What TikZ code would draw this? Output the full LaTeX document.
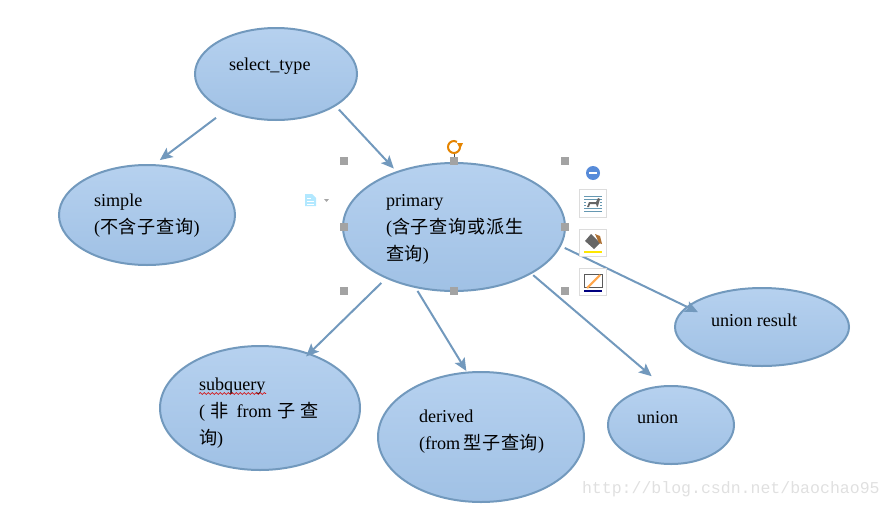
\documentclass[tikz,border=0pt]{standalone}
\usepackage{fontspec}
\setmainfont{Liberation Serif}
\newfontfamily\cjk[LetterSpace=4]{Noto Sans CJK SC}
\newfontfamily\wmark{Liberation Mono}
\usetikzlibrary{shapes.geometric,arrows.meta,decorations.pathmorphing}
\definecolor{edgeblue}{HTML}{7299BD}
\definecolor{topblue}{HTML}{B6D1EF}
\definecolor{botblue}{HTML}{A0C1E5}
\definecolor{handle}{HTML}{A3A3A3}
\definecolor{btnline}{HTML}{DCDCDC}
\newcommand\zh[1]{{\cjk #1}}
\tikzset{
  bubble/.style 2 args={ellipse,draw=edgeblue,line width=1.5pt,top color=topblue,bottom color=botblue,
    inner sep=0pt,outer sep=0pt,minimum width=#1*1.5pt,minimum height=#2*1.5pt},
  caption/.style={anchor=north west,inner sep=0pt,outer sep=0pt,align=left,font=\fontsize{13.6}{20.25}\selectfont},
  link/.style 2 args={draw=edgeblue,line width=1.5pt,-{Stealth[length=9.5pt,width=8.5pt,inset=2pt]},
    shorten <=#1*0.75pt,shorten >=#2*0.75pt},
  grip/.style={fill=handle,draw=none,minimum size=6.5pt,inner sep=0pt,outer sep=0pt,rectangle},
  btn/.style={draw=btnline,fill=white,line width=0.75pt,minimum size=20.5pt,inner sep=0pt,rectangle}
}
\begin{document}
\begin{tikzpicture}[x=0.75pt,y=-0.75pt]
\useasboundingbox (0,0) rectangle (892,507);
% bubbles
\node[bubble={81}{46}] (sel) at (276,74) {};
\node[bubble={88}{50}] (simple) at (147,215) {};
\node[bubble={111}{64}] (primary) at (454,227) {};
\node[bubble={87}{39}] (result) at (762,327) {};
\node[bubble={100}{62}] (subq) at (260,408) {};
\node[bubble={103}{65}] (derived) at (481,437) {};
\node[bubble={63}{39}] (unionn) at (671,425) {};
% captions
\node[caption] (tsel) at (229,57.5) {select\_type};
\node[caption] (tsimple) at (94,193.5) {simple\\(\zh{不含子查询})};
\node[caption] (tprimary) at (386,194) {primary\\(\zh{含子查询或派生}\\\zh{查询})};
\node[caption] (tresult) at (711,313.5) {union result};
\node[caption] (tsubq) at (199,377.5) {subquery\\(\hspace{4pt}\zh{非}\hspace{6pt}from\hspace{4.5pt}\zh{子}\hspace{3.5pt}\zh{查}\\\zh{询})};
\node[caption] (tderived) at (419,410) {derived\\(from\,\zh{型子查询})};
\node[caption] (tunion) at (637,411.5) {union};
\draw[red!85!black,line width=0.5pt,decorate,decoration={snake,amplitude=0.7pt,segment length=3pt}] (tsubq.north west)++(0,16) -- ++(67,0);
% connectors
\draw[link={12.6}{8.4}] (sel.216) -- (simple.83);
\draw[link={5.6}{4.8}] (sel.-28.4) -- (primary.136.7);
\draw[link={7.3}{-3.7}] (primary.217.4) -- (subq.48.9);
\draw[link={4.7}{1.9}] (primary.237.4) -- (derived.102.3);
\draw[link={3.1}{15.5}] (primary.-31.9) -- (unionn.101.7);
\draw[link={5.1}{-11.8}] (primary.-10) -- (result.165.7);
% selection handles
\foreach \n/\hx/\hy in {g1/344/161,g2/454/161,g3/565/161,g4/344/227,g5/565/227,g6/344/291,g7/454/291,g8/565/291}
  \node[grip] (\n) at (\hx,\hy) {};
% rotate handle
\draw[black!70,line width=0.6pt] (454,153) -- (g2.north);
\draw[orange!85!yellow!90!black,line width=1.5pt] (460,147) arc[start angle=0,end angle=300,radius=6];
\fill[orange!85!yellow!90!black] (457,143) -- (463,143) -- (460,149) -- cycle;
% layout icon
\fill[blue!30!cyan!30!white] (305,194) -- (312,194) -- (316,198) -- (316,206) -- (305,206) -- cycle;
\draw[white,line width=0.6pt] (307,198) -- (311,198) (307,201) -- (314,201) (307,204) -- (314,204);
\fill[black!35] (324,199) -- (329,199) -- (326.5,202) -- cycle;
% side buttons
\fill[blue!60!cyan!60!white!85!black] (593,173) circle[radius=7];
\fill[white] (589,172) rectangle (597,174);
\node[btn] (b1) at (593,203.5) {};
\node[btn] (b2) at (593,243) {};
\node[btn] (b3) at (593,282) {};
% picture button
\draw[blue!35!cyan!50!black!60,line width=0.6pt] (584,196) -- (602,196) (584,199) -- (602,199) (584,202) -- (586,202) (600,202) -- (602,202)
  (584,205) -- (586,205) (600,205) -- (602,205) (584,208) -- (602,208) (584,211) -- (602,211);
\fill[black!60] (587,207) -- (589,202) -- (596,202) -- (598,198) -- (600,199) -- (598,206) -- (597,207) -- (596,204) -- (590,204) -- (589,207) -- cycle;
% fill button
\fill[black!60] (585,241) -- (591,234) -- (600,243) -- (594,249) -- cycle;
\fill[orange!60!black!80] (595,234) -- (600,236) -- (602,244) -- (599,243) -- cycle;
\fill[yellow!90!orange] (584,250.5) rectangle (602,252.5);
% line button
\draw[black!65,line width=0.6pt] (584,274) rectangle (602,287);
\draw[orange!70!white,line width=1.6pt] (587,288) -- (600,275);
\fill[blue!50!black] (584,290) rectangle (602,292);
% watermark
\node[anchor=base west,inner sep=0pt,outer sep=0pt,text=black!12,font=\wmark\fontsize{12.4}{14}\selectfont] (wm) at (582,493) {http://blog.csdn.net/baochao95};
\end{tikzpicture}
\end{document}
